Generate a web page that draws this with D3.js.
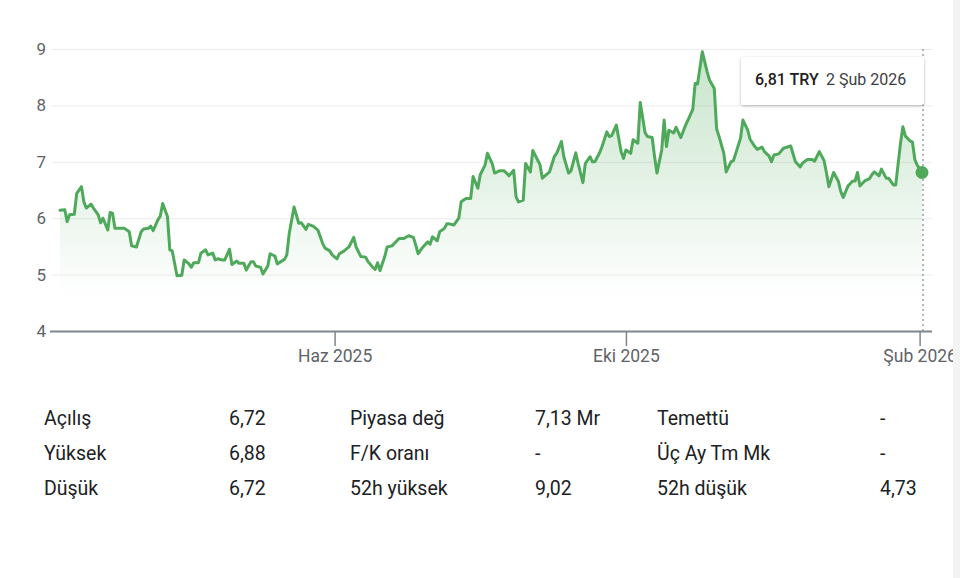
<!DOCTYPE html>
<html><head><meta charset="utf-8">
<script src="https://cdn.jsdelivr.net/npm/d3@7"></script>
<style>
body{margin:0;background:#fff;}
svg{display:block;font-family:Roboto,"Noto Sans",sans-serif;}
</style>
</head><body>
<svg id="c" width="960" height="578"></svg>
<script>
const dates = [
"2025-02-06","2025-02-08","2025-02-09","2025-02-10","2025-02-12","2025-02-13","2025-02-15","2025-02-16","2025-02-17","2025-02-19",
"2025-02-20","2025-02-22","2025-02-23","2025-02-24","2025-02-26","2025-02-27","2025-02-28","2025-03-01","2025-03-05","2025-03-07",
"2025-03-08","2025-03-10","2025-03-12","2025-03-13","2025-03-15","2025-03-16","2025-03-17","2025-03-19","2025-03-20","2025-03-21",
"2025-03-23","2025-03-24","2025-03-25","2025-03-27","2025-03-29","2025-03-30","2025-04-01","2025-04-02","2025-04-03","2025-04-05",
"2025-04-06","2025-04-08","2025-04-09","2025-04-11","2025-04-12","2025-04-13","2025-04-15","2025-04-16","2025-04-18","2025-04-19",
"2025-04-21","2025-04-22","2025-04-24","2025-04-25","2025-04-27","2025-04-28","2025-04-29","2025-05-01","2025-05-02","2025-05-04",
"2025-05-05","2025-05-07","2025-05-08","2025-05-11","2025-05-12","2025-05-13","2025-05-15","2025-05-17","2025-05-18","2025-05-20",
"2025-05-21","2025-05-23","2025-05-25","2025-05-27","2025-05-28","2025-05-30","2025-05-31","2025-06-02","2025-06-03","2025-06-05",
"2025-06-07","2025-06-09","2025-06-10","2025-06-12","2025-06-14","2025-06-15","2025-06-17","2025-06-18","2025-06-19","2025-06-20",
"2025-06-22","2025-06-23","2025-06-25","2025-06-26","2025-06-28","2025-06-30","2025-07-02","2025-07-04","2025-07-05","2025-07-06",
"2025-07-08","2025-07-10","2025-07-11","2025-07-12","2025-07-14","2025-07-15","2025-07-17","2025-07-18","2025-07-19","2025-07-21",
"2025-07-23","2025-07-24","2025-07-26","2025-07-28","2025-07-29","2025-07-31","2025-08-01","2025-08-03","2025-08-04","2025-08-06",
"2025-08-07","2025-08-09","2025-08-11","2025-08-12","2025-08-13","2025-08-15","2025-08-16","2025-08-17","2025-08-19","2025-08-20",
"2025-08-22","2025-08-23","2025-08-26","2025-08-27","2025-08-30","2025-09-01","2025-09-02","2025-09-04","2025-09-05","2025-09-07",
"2025-09-08","2025-09-10","2025-09-11","2025-09-13","2025-09-14","2025-09-16","2025-09-17","2025-09-18","2025-09-20","2025-09-21",
"2025-09-23","2025-09-24","2025-09-25","2025-09-27","2025-09-29","2025-09-30","2025-10-01","2025-10-03","2025-10-04","2025-10-06",
"2025-10-07","2025-10-09","2025-10-10","2025-10-12","2025-10-13","2025-10-14","2025-10-16","2025-10-17","2025-10-18","2025-10-19",
"2025-10-21","2025-10-22","2025-10-23","2025-10-24","2025-10-26","2025-10-27","2025-10-29","2025-10-30","2025-10-31","2025-11-02",
"2025-11-04","2025-11-05","2025-11-07","2025-11-08","2025-11-09","2025-11-11","2025-11-12","2025-11-14","2025-11-15","2025-11-16",
"2025-11-18","2025-11-19","2025-11-21","2025-11-22","2025-11-24","2025-11-25","2025-11-27","2025-11-28","2025-11-30","2025-12-01",
"2025-12-02","2025-12-04","2025-12-06","2025-12-09","2025-12-11","2025-12-13","2025-12-14","2025-12-16","2025-12-18","2025-12-19",
"2025-12-21","2025-12-23","2025-12-24","2025-12-25","2025-12-27","2025-12-29","2025-12-30","2025-12-31","2026-01-02","2026-01-04",
"2026-01-05","2026-01-06","2026-01-07","2026-01-09","2026-01-11","2026-01-12","2026-01-13","2026-01-15","2026-01-16","2026-01-18",
"2026-01-19","2026-01-21","2026-01-22","2026-01-24","2026-01-25","2026-01-26","2026-01-28","2026-01-29","2026-01-30","2026-01-31",
"2026-02-02"
];
const prices = [
6.14,6.15,5.94,6.06,6.07,6.44,6.56,6.29,6.18,6.25,
6.18,6.06,5.92,6.00,5.79,6.10,6.09,5.82,5.82,5.76,
5.51,5.49,5.76,5.81,5.82,5.86,5.78,5.97,6.04,6.26,
6.03,5.44,5.42,4.98,4.99,5.26,5.19,5.13,5.21,5.21,
5.38,5.44,5.35,5.38,5.26,5.28,5.26,5.26,5.45,5.18,
5.24,5.20,5.20,5.08,5.23,5.23,5.15,5.13,5.01,5.15,
5.37,5.33,5.19,5.27,5.35,5.73,6.20,5.91,5.92,5.80,
5.89,5.86,5.79,5.55,5.47,5.42,5.35,5.28,5.37,5.42,
5.49,5.66,5.49,5.32,5.31,5.23,5.13,5.09,5.21,5.07,
5.32,5.49,5.51,5.55,5.64,5.64,5.69,5.66,5.52,5.37,
5.49,5.58,5.54,5.67,5.60,5.76,5.82,5.90,5.90,5.88,
6.00,6.29,6.35,6.35,6.74,6.53,6.77,6.94,7.15,6.97,
6.80,6.84,6.84,6.80,6.75,6.85,6.38,6.29,6.32,6.97,
6.82,7.20,6.95,6.71,6.82,7.09,7.15,7.36,7.09,6.80,
6.84,7.16,6.97,6.63,6.97,7.09,7.00,7.00,7.16,7.27,
7.53,7.45,7.46,7.65,7.18,7.06,7.21,7.15,7.39,7.33,
8.05,7.52,7.45,7.43,7.09,6.80,7.21,7.74,7.27,7.56,
7.51,7.61,7.52,7.43,7.65,7.74,7.93,8.39,8.38,8.95,
8.60,8.45,8.30,7.58,7.45,7.15,6.82,7.00,7.02,7.15,
7.42,7.74,7.56,7.40,7.27,7.22,7.26,7.18,7.10,7.00,
7.12,7.14,7.24,7.28,7.00,6.91,6.98,7.04,7.04,7.01,
7.18,7.02,6.80,6.56,6.81,6.65,6.47,6.37,6.57,6.66,
6.66,6.81,6.57,6.66,6.70,6.77,6.82,6.75,6.87,6.71,
6.71,6.59,6.59,7.33,7.62,7.46,7.37,7.35,7.04,6.94,
6.81
];
const yTicks = [4,5,6,7,8,9];
const xTickDates = ["2025-06-01","2025-10-01","2026-02-01"];
const xTickLabels = ["Haz 2025","Eki 2025","Şub 2026"];
const tooltipPrice = "6,81 TRY";
const tooltipDate = "2 Şub 2026";
const statLabels = [["Açılış","Yüksek","Düşük"],["Piyasa değ","F/K oranı","52h yüksek"],["Temettü","Üç Ay Tm Mk","52h düşük"]];
const statValues = [["6,72","6,88","6,72"],["7,13 Mr","-","9,02"],["-","-","4,73"]];

const parse = d3.utcParse("%Y-%m-%d");
const data = dates.map((d,i)=>({date:parse(d), value:prices[i]}));
const svg = d3.select("#c");
const green = "#4ea95b";

const x = d3.scaleUtc().domain([data[0].date, data[data.length-1].date]).range([60,922]);
const y = d3.scaleLinear().domain([4,9]).range([331,49]);

const defs = svg.append("defs");
const grad = defs.append("linearGradient").attr("id","g").attr("gradientUnits","userSpaceOnUse")
  .attr("x1",0).attr("x2",0).attr("y1",y(9)).attr("y2",y(4.6));
grad.append("stop").attr("offset",0).attr("stop-color",green).attr("stop-opacity",0.32);
grad.append("stop").attr("offset",1).attr("stop-color",green).attr("stop-opacity",0);
const f = defs.append("filter").attr("id","sh").attr("x","-20%").attr("y","-40%").attr("width","140%").attr("height","180%");
f.append("feDropShadow").attr("dx",0).attr("dy",1).attr("stdDeviation",1.6).attr("flood-color","#000").attr("flood-opacity",0.28);

// y axis with gridlines
const yAxis = svg.append("g").attr("transform","translate(932,0)")
  .call(d3.axisLeft(y).tickValues(yTicks).tickSize(880).tickPadding(6).tickFormat(d3.format("d")));
yAxis.select(".domain").remove();
yAxis.selectAll(".tick line").attr("stroke","#ececec").attr("stroke-width",1);
yAxis.selectAll(".tick text").attr("fill","#5f6368").attr("font-size",17).attr("font-family","Roboto");
yAxis.selectAll(".tick").filter(d=>d===4).select("line").attr("stroke","#80868b").attr("stroke-width",2).attr("x2",-882);

// area + line
svg.append("path").datum(data).attr("fill","url(#g)")
  .attr("d", d3.area().x(d=>x(d.date)).y0(y(4)).y1(d=>y(d.value)));
svg.append("path").datum(data).attr("fill","none").attr("stroke",green).attr("stroke-width",3)
  .attr("stroke-linejoin","round").attr("stroke-linecap","round")
  .attr("d", d3.line().x(d=>x(d.date)).y(d=>y(d.value)));

// x axis ticks
const xAxis = svg.append("g").attr("transform",`translate(0,${y(4)})`)
  .call(d3.axisBottom(x).tickValues(xTickDates.map(parse)).tickSize(15).tickPadding(4)
    .tickFormat((d,i)=>xTickLabels[i]));
xAxis.select(".domain").remove();
xAxis.selectAll(".tick line").attr("stroke","#80868b").attr("stroke-width",1.5);
xAxis.selectAll(".tick text").attr("fill","#5f6368").attr("font-size",17.5).attr("font-family","Roboto");

// hover line + dot
const last = data[data.length-1];
svg.append("line").attr("x1",x(last.date)+1).attr("x2",x(last.date)+1).attr("y1",y(9)).attr("y2",y(4))
  .attr("stroke","#80868b").attr("stroke-width",1.2).attr("stroke-dasharray","2,3");
svg.append("circle").attr("cx",x(last.date)).attr("cy",y(last.value)).attr("r",6.5).attr("fill",green);

// tooltip
const tt = svg.append("g");
tt.append("rect").attr("x",741).attr("y",57).attr("width",183).attr("height",48).attr("rx",3)
  .attr("fill","#fff").attr("filter","url(#sh)");
tt.append("text").attr("x",755).attr("y",85).attr("font-size",16).attr("font-weight",500).attr("fill","#202124").text(tooltipPrice);
tt.append("text").attr("x",826).attr("y",85).attr("font-size",16).attr("fill","#3c4043").text(tooltipDate);

// right edge panel
svg.append("rect").attr("x",953).attr("y",0).attr("width",7).attr("height",578).attr("fill","#f3f3f3");

// stats table
const labelX = [44,350,657], valueX = [229,535,880], rowY = [425,460,495];
statLabels.forEach((col,ci)=>col.forEach((t,ri)=>{
  svg.append("text").attr("x",labelX[ci]).attr("y",rowY[ri]).attr("font-size",19.5).attr("fill","#202124").text(t);
  svg.append("text").attr("x",valueX[ci]).attr("y",rowY[ri]).attr("font-size",19.5).attr("fill","#202124").text(statValues[ci][ri]);
}));
</script>
</body></html>
